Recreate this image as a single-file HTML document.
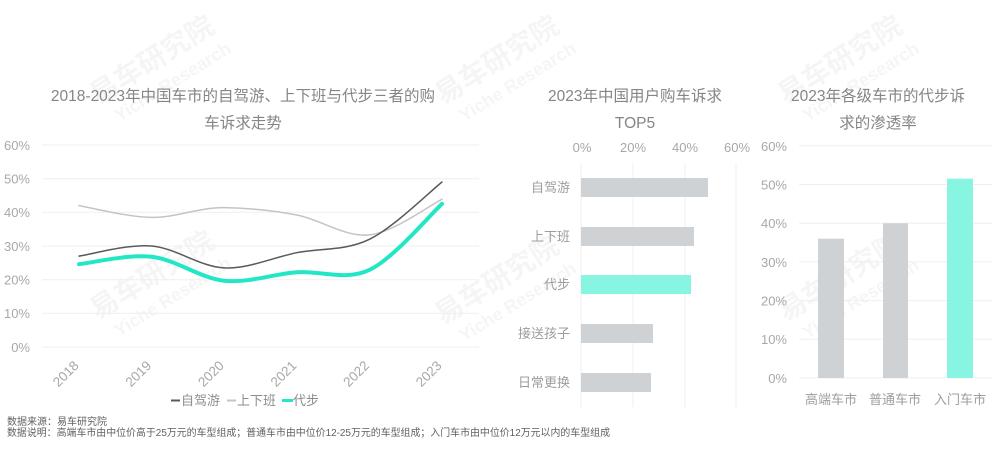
<!DOCTYPE html>
<html><head><meta charset="utf-8"><style>
html,body{margin:0;padding:0;background:#fff;}
svg{display:block;font-family:"Liberation Sans","Noto Sans CJK SC",sans-serif;}
</style></head><body>
<svg width="1000" height="471" viewBox="0 0 1000 471" xmlns="http://www.w3.org/2000/svg">
<rect width="1000" height="471" fill="#fff"/>

<!-- watermarks -->
<g fill="#000" fill-opacity="0.04" font-weight="bold">
  <g transform="translate(157,68) rotate(-32)"><text x="0" y="0" font-size="28" text-anchor="middle">易车研究院</text><text x="6" y="26" font-size="18" text-anchor="middle">Yiche Research</text></g>
  <g transform="translate(502,68) rotate(-32)"><text x="0" y="0" font-size="28" text-anchor="middle">易车研究院</text><text x="6" y="26" font-size="18" text-anchor="middle">Yiche Research</text></g>
  <g transform="translate(845,68) rotate(-32)"><text x="0" y="0" font-size="28" text-anchor="middle">易车研究院</text><text x="6" y="26" font-size="18" text-anchor="middle">Yiche Research</text></g>
  <g transform="translate(157,283) rotate(-32)"><text x="0" y="0" font-size="28" text-anchor="middle">易车研究院</text><text x="6" y="26" font-size="18" text-anchor="middle">Yiche Research</text></g>
  <g transform="translate(502,288) rotate(-32)"><text x="0" y="0" font-size="28" text-anchor="middle">易车研究院</text><text x="6" y="26" font-size="18" text-anchor="middle">Yiche Research</text></g>
  <g transform="translate(845,285) rotate(-32)"><text x="0" y="0" font-size="28" text-anchor="middle">易车研究院</text><text x="6" y="26" font-size="18" text-anchor="middle">Yiche Research</text></g>
</g>

<!-- ===== Left chart ===== -->
<g fill="#858585" font-size="15.5" text-anchor="middle">
  <text x="243" y="101">2018-2023年中国车市的自驾游、上下班与代步三者的购</text>
  <text x="243" y="128">车诉求走势</text>
</g>
<g stroke="#efefef" stroke-width="1">
  <line x1="42" y1="145" x2="479" y2="145"/>
  <line x1="42" y1="178.7" x2="479" y2="178.7"/>
  <line x1="42" y1="212.3" x2="479" y2="212.3"/>
  <line x1="42" y1="246" x2="479" y2="246"/>
  <line x1="42" y1="279.7" x2="479" y2="279.7"/>
  <line x1="42" y1="313.3" x2="479" y2="313.3"/>
  <line x1="42" y1="347" x2="479" y2="347"/>
</g>
<g fill="#a8a8a8" font-size="13" text-anchor="end">
  <text x="30" y="150">60%</text>
  <text x="30" y="183.5">50%</text>
  <text x="30" y="217">40%</text>
  <text x="30" y="251">30%</text>
  <text x="30" y="284.5">20%</text>
  <text x="30" y="318">10%</text>
  <text x="30" y="352">0%</text>
</g>
<g fill="#a8a8a8" font-size="13.5" text-anchor="middle">
  <text transform="translate(69,377) rotate(-45)">2018</text>
  <text transform="translate(141.6,377) rotate(-45)">2019</text>
  <text transform="translate(214.2,377) rotate(-45)">2020</text>
  <text transform="translate(286.8,377) rotate(-45)">2021</text>
  <text transform="translate(359.4,377) rotate(-45)">2022</text>
  <text transform="translate(432,377) rotate(-45)">2023</text>
</g>
<g fill="none" stroke-linecap="round" stroke-linejoin="round">
  <path d="M79,205.6 C91.1,207.6 127.4,217.1 151.6,217.4 C175.8,217.7 200.0,207.2 224.2,207.6 C248.4,208.0 272.6,210.4 296.8,215.0 C321.0,219.6 345.2,237.5 369.4,234.9 C393.6,232.3 429.9,205.2 442,199.2" stroke="#c4c4c4" stroke-width="1.5"/>
  <path d="M79,256.1 C91.1,254.4 127.4,244.0 151.6,246.0 C175.8,248.0 200.0,266.8 224.2,267.9 C248.4,269.0 272.6,257.5 296.8,252.7 C321.0,247.9 345.2,251.1 369.4,239.3 C393.6,227.5 429.9,191.6 442,182.0" stroke="#595959" stroke-width="1.5"/>
  <path d="M79,264.2 C91.1,263.0 127.4,254.1 151.6,256.8 C175.8,259.5 200.0,278.1 224.2,280.7 C248.4,283.3 272.6,274.1 296.8,272.3 C321.0,270.5 345.2,281.3 369.4,269.9 C393.6,258.5 429.9,214.9 442,203.9" stroke="#22e7c6" stroke-width="4"/>
</g>
<!-- legend -->
<line x1="171" y1="400.5" x2="180" y2="400.5" stroke="#595959" stroke-width="2"/>
<line x1="227" y1="400.5" x2="236" y2="400.5" stroke="#c4c4c4" stroke-width="2"/>
<line x1="282" y1="400.5" x2="293" y2="400.5" stroke="#22e7c6" stroke-width="3"/>
<g fill="#8e8e8e" font-size="13">
  <text x="181" y="405">自驾游</text>
  <text x="237" y="405">上下班</text>
  <text x="293" y="405">代步</text>
</g>

<!-- ===== Middle chart ===== -->
<g fill="#858585" font-size="15.5" text-anchor="middle">
  <text x="635" y="101">2023年中国用户购车诉求</text>
  <text x="635" y="128">TOP5</text>
</g>
<g fill="#a8a8a8" font-size="13" text-anchor="middle">
  <text x="582" y="152">0%</text>
  <text x="633" y="152">20%</text>
  <text x="685" y="152">40%</text>
  <text x="737" y="152">60%</text>
</g>
<g stroke="#efefef" stroke-width="1">
  <line x1="581" y1="163" x2="581" y2="407"/>
  <line x1="633" y1="163" x2="633" y2="407"/>
  <line x1="685" y1="163" x2="685" y2="407"/>
  <line x1="736" y1="163" x2="736" y2="407"/>
</g>
<rect x="581" y="178" width="127" height="19" fill="#cfd2d4"/>
<rect x="581" y="227" width="113" height="19" fill="#cfd2d4"/>
<rect x="581" y="275" width="110" height="19" fill="#88f4e2"/>
<rect x="581" y="324" width="72" height="19" fill="#cfd2d4"/>
<rect x="581" y="373" width="70" height="19" fill="#cfd2d4"/>
<g fill="#9d9d9d" font-size="13" text-anchor="end">
  <text x="570" y="192">自驾游</text>
  <text x="570" y="241">上下班</text>
  <text x="570" y="289">代步</text>
  <text x="570" y="338">接送孩子</text>
  <text x="570" y="387">日常更换</text>
</g>

<!-- ===== Right chart ===== -->
<g fill="#858585" font-size="15.5" text-anchor="middle">
  <text x="878" y="101">2023年各级车市的代步诉</text>
  <text x="878" y="128">求的渗透率</text>
</g>
<g stroke="#efefef" stroke-width="1">
  <line x1="799" y1="145.8" x2="992" y2="145.8"/>
  <line x1="799" y1="184.5" x2="992" y2="184.5"/>
  <line x1="799" y1="223.2" x2="992" y2="223.2"/>
  <line x1="799" y1="261.9" x2="992" y2="261.9"/>
  <line x1="799" y1="300.6" x2="992" y2="300.6"/>
  <line x1="799" y1="339.3" x2="992" y2="339.3"/>
  <line x1="799" y1="378" x2="992" y2="378"/>
</g>
<g fill="#a8a8a8" font-size="13" text-anchor="end">
  <text x="787" y="151">60%</text>
  <text x="787" y="189.5">50%</text>
  <text x="787" y="228">40%</text>
  <text x="787" y="267">30%</text>
  <text x="787" y="305.5">20%</text>
  <text x="787" y="344">10%</text>
  <text x="787" y="383">0%</text>
</g>
<rect x="818" y="238.7" width="26" height="139.3" fill="#cfd2d4"/>
<rect x="883" y="223.2" width="25" height="154.8" fill="#cfd2d4"/>
<rect x="947" y="178.7" width="26" height="199.3" fill="#88f4e2"/>
<g fill="#9d9d9d" font-size="13" text-anchor="middle">
  <text x="831" y="404">高端车市</text>
  <text x="895" y="404">普通车市</text>
  <text x="960" y="404">入门车市</text>
</g>

<!-- footer -->
<g fill="#606060" font-size="10">
  <text x="7" y="425">数据来源：易车研究院</text>
  <text x="7" y="436" textLength="603" lengthAdjust="spacingAndGlyphs">数据说明：高端车市由中位价高于25万元的车型组成；普通车市由中位价12-25万元的车型组成；入门车市由中位价12万元以内的车型组成</text>
</g>
</svg>
</body></html>
